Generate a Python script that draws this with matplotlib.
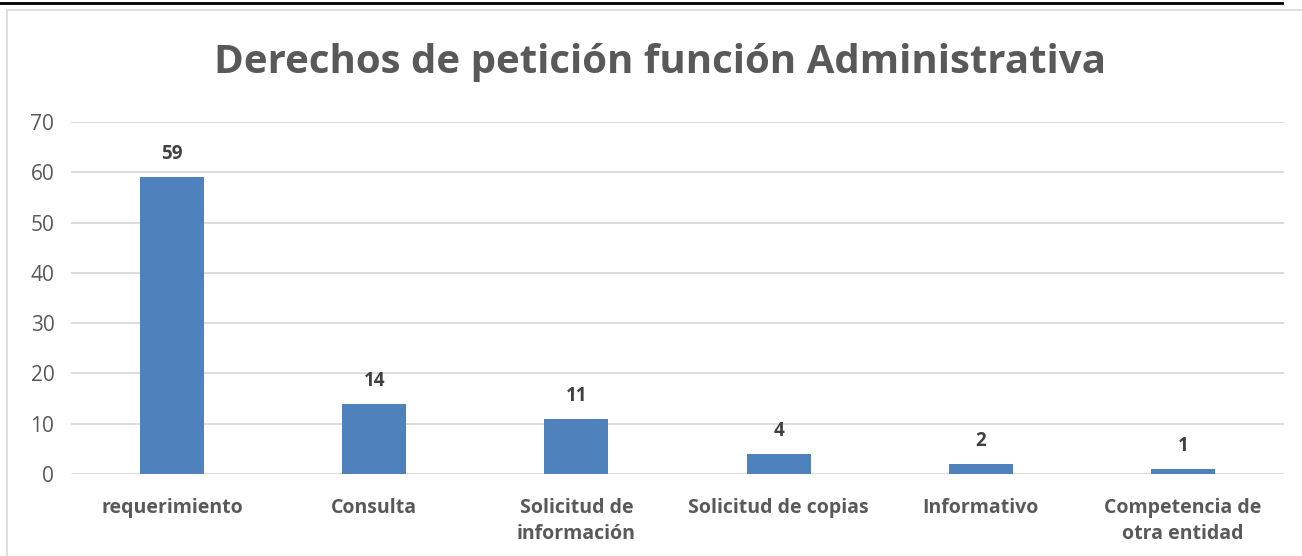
import matplotlib.pyplot as plt
from matplotlib.lines import Line2D
from matplotlib.patches import Rectangle

categories = ["requerimiento", "Consulta", "Solicitud de\ninformación",
              "Solicitud de copias", "Informativo", "Competencia de\notra entidad"]
values = [59, 14, 11, 4, 2, 1]
yticks = [0, 10, 20, 30, 40, 50, 60, 70]

plt.rcParams['font.family'] = ['Open Sans', 'DejaVu Sans']

fig = plt.figure(figsize=(13.02, 5.56), dpi=100)
ax = fig.add_axes([71 / 1302, 1 - 474 / 556, (1284 - 71) / 1302, (474 - 122) / 556])

# chart border and top rule
fig.add_artist(Rectangle((7 / 1302, -0.1), 1.2, 1 - 10 / 556 + 0.1, transform=fig.transFigure,
                         fill=False, edgecolor="#d9d9d9", linewidth=1.2))
fig.add_artist(Line2D([0, 1282 / 1302], [1 - 2.5 / 556] * 2, transform=fig.transFigure,
                      color="black", linewidth=2))

x = range(len(categories))
bars = ax.bar(x, values, width=0.317, color="#4f81bd", zorder=3)
for b, v in zip(bars, values):
    ax.text(b.get_x() + b.get_width() / 2, v + 2.6, str(v), ha="center", va="bottom",
            fontsize=13.5, fontweight="bold", color="#404040")

ax.set_xlim(-0.5, len(categories) - 0.5)
ax.set_ylim(0, 70)
ax.set_yticks(yticks)
ax.grid(axis="y", color="#d9d9d9", linewidth=1.3, zorder=0)
for s in ax.spines.values():
    s.set_visible(False)
ax.tick_params(axis="both", length=0)
ax.tick_params(axis="y", labelsize=15, labelcolor="#595959", pad=12)
ax.set_xticks(list(x))
ax.set_xticklabels(categories, fontsize=14, fontweight="bold", color="#595959",
                   linespacing=1.45, va="top")
ax.tick_params(axis="x", pad=17)

fig.text(660 / 1302, 1 - 62 / 556, "Derechos de petición función Administrativa",
         ha="center", va="center", fontsize=29, fontweight="bold", color="#595959")

fig.savefig("out.png", dpi=100)
